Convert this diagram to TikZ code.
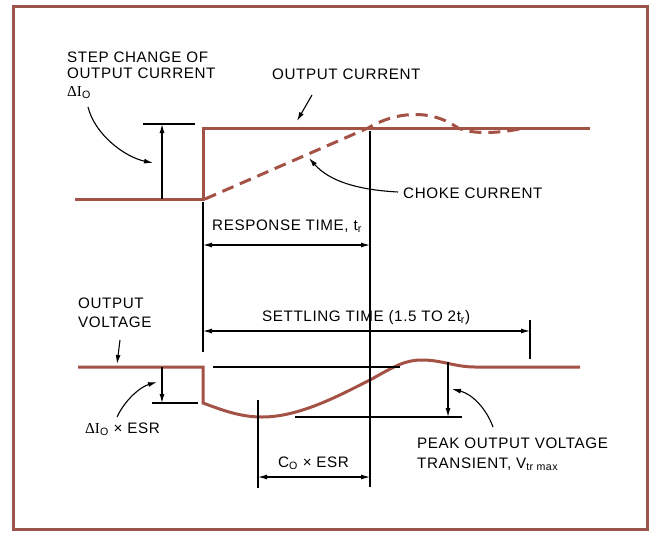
\documentclass[tikz,border=0pt]{standalone}
\usepackage{fontspec}
\setmainfont{Liberation Sans}[LetterSpace=4]
\newfontfamily\serifd{Liberation Serif}
\usetikzlibrary{arrows.meta}
\definecolor{trace}{RGB}{165,82,70}
\definecolor{framec}{RGB}{155,85,75}
\begin{document}
\begin{tikzpicture}[x=1pt,y=-1pt,
  lbl/.style={anchor=base west,inner sep=0pt,font=\fontsize{15.2}{17}\selectfont},
  wave/.style={draw=trace,line width=3pt,line join=miter},
  dim/.style={draw=black,line width=1.1pt},
  tip/.style={-{Latex[length=9pt,width=5pt]}},
  both/.style={{Latex[length=9pt,width=5pt]}-{Latex[length=9pt,width=5pt]}}]
\useasboundingbox (0,0) rectangle (652,533);
\fill[white] (0,0) rectangle (652,533);
\draw[framec,line width=3pt] (13,6) rectangle (647,529);

% coordinates
\coordinate (iL) at (75,199);
\coordinate (iS) at (203,199);
\coordinate (iT) at (203,128);
\coordinate (iR) at (590,128);
\coordinate (cA) at (205,199);
\coordinate (cB) at (368,128);
\coordinate (cC) at (458,128);
\coordinate (cD) at (525,128);
\coordinate (vL) at (78,367);
\coordinate (vS) at (203,367);
\coordinate (vB) at (203,403);
\coordinate (vM) at (262,417);
\coordinate (vX) at (370,380);
\coordinate (vP) at (422,360);
\coordinate (vE) at (475,367);
\coordinate (vR) at (580,367);

% waveforms
\draw[wave] (iL) -- (iS) -- (iT) -- (iR);
\draw[wave,dash pattern=on 12pt off 7pt] (cA) -- (cB) .. controls (395,112) and (430,108) .. (cC) .. controls (475,135) and (500,133) .. (cD);
\draw[wave] (vL) -- (vS) -- (vB) .. controls (222,410) and (240,417) .. (vM) .. controls (300,417) and (340,395) .. (vX) .. controls (395,366) and (405,360) .. (vP) .. controls (442,360) and (455,367) .. (vE) -- (vR);

% dimension lines
\coordinate (g1t) at (203,202);
\coordinate (g1b) at (203,352);
\coordinate (g2t) at (370,131);
\coordinate (g2b) at (370,487);
\draw[dim] (g1t) -- (g1b);
\draw[dim] (g2t) -- (g2b);
\coordinate (rA) at (203,245);
\coordinate (rB) at (370,245);
\draw[dim,both] (rA) -- (rB);
\coordinate (sA) at (203,331);
\coordinate (sB) at (530,331);
\coordinate (sT1) at (530,320);
\coordinate (sT2) at (530,359);
\draw[dim,both] (sA) -- (sB);
\draw[dim] (sT1) -- (sT2);
% step change arrow
\coordinate (dI1) at (162,199);
\coordinate (dI2) at (162,124);
\coordinate (dIa) at (143,124);
\coordinate (dIb) at (195,124);
\draw[dim] (dIa) -- (dIb);
\draw[dim,tip] (dI1) -- (dI2);
% voltage reference lines
\coordinate (ref1) at (213,367);
\coordinate (ref2) at (400,367);
\draw[dim] (ref1) -- (ref2);
\coordinate (esr1) at (162,367);
\coordinate (esr2) at (162,403);
\coordinate (esra) at (152,403);
\coordinate (esrb) at (198,403);
\draw[dim] (esra) -- (esrb);
\draw[dim,tip] (esr1) -- (esr2);
\coordinate (mn1) at (295,417);
\coordinate (mn2) at (462,417);
\draw[dim] (mn1) -- (mn2);
\coordinate (pk1) at (448,362);
\coordinate (pk2) at (448,417);
\draw[dim,tip] (pk1) -- (pk2);
\coordinate (co1) at (258,400);
\coordinate (co2) at (258,488);
\draw[dim] (co1) -- (co2);
\coordinate (coA) at (258,477);
\coordinate (coB) at (370,477);
\draw[dim,both] (coA) -- (coB);

% labels
\node[lbl] (step1) at (67,62) {STEP CHANGE OF};
\node[lbl] (step2) at (67,78) {OUTPUT CURRENT};
\node[lbl] (step3) at (67,96) {{\serifd ΔI}\textsubscript{O}};
\node[lbl] (oc) at (272,79) {OUTPUT CURRENT};
\node[lbl] (ch) at (403,198) {CHOKE CURRENT};
\node[lbl] (rt) at (212,230) {RESPONSE TIME, t\textsubscript{r}};
\node[lbl] (st) at (262,321) {SETTLING TIME (1.5 TO 2t\textsubscript{r})};
\node[lbl] (ov1) at (78,308) {OUTPUT};
\node[lbl] (ov2) at (78,327) {VOLTAGE};
\node[lbl] (de) at (85,433) {{\serifd ΔI}\textsubscript{O} × ESR};
\node[lbl] (ce) at (278,467) {C\textsubscript{O} × ESR};
\node[lbl] (pk) at (417,448) {PEAK OUTPUT VOLTAGE};
\node[lbl] (tr) at (417,468) {TRANSIENT, V\textsubscript{tr max}};

% leader arrows
\coordinate (a1s) at (88,107);
\coordinate (a1e) at (153,163);
\draw[dim,tip] (a1s) .. controls (95,135) and (125,157) .. (a1e);
\coordinate (a2s) at (312,95);
\coordinate (a2e) at (297,121);
\draw[dim,tip] (a2s) -- (a2e);
\coordinate (a3s) at (398,192);
\coordinate (a3e) at (309,158);
\draw[dim,tip] (a3s) .. controls (360,190) and (330,182) .. (a3e);
\coordinate (a4s) at (120,340);
\coordinate (a4e) at (117,364);
\draw[dim,tip] (a4s) -- (a4e);
\coordinate (a5s) at (117,417);
\coordinate (a5e) at (157,382);
\draw[dim,tip] (a5s) .. controls (125,400) and (140,387) .. (a5e);
\coordinate (a6s) at (493,427);
\coordinate (a6e) at (452,389);
\draw[dim,tip] (a6s) .. controls (486,408) and (472,394) .. (a6e);
\end{tikzpicture}
\end{document}
